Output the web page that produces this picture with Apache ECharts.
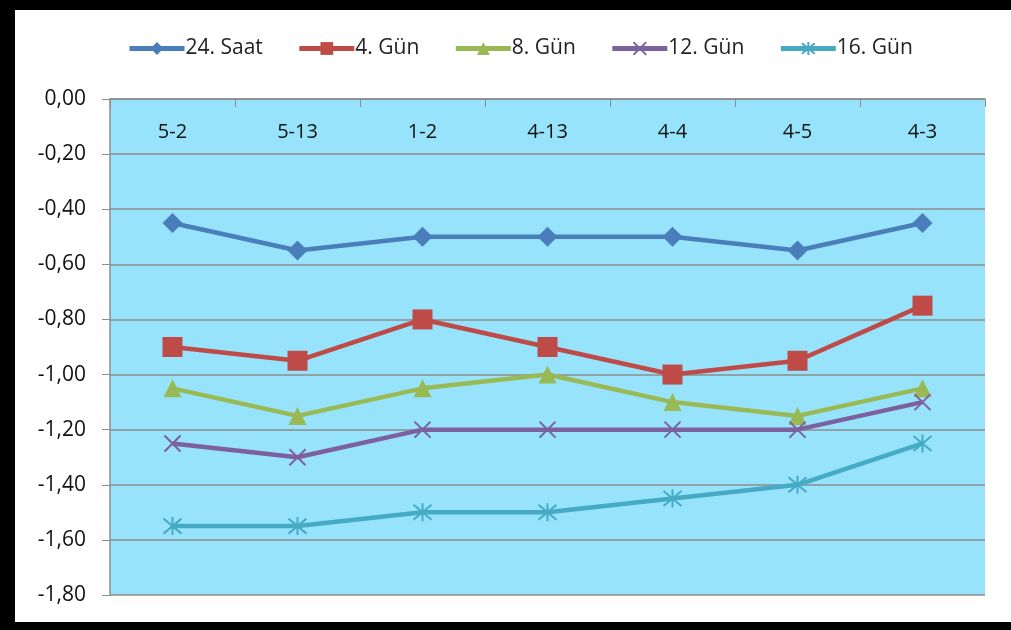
<!DOCTYPE html>
<html>
<head>
<meta charset="utf-8">
<script src="https://cdn.jsdelivr.net/npm/echarts@6/dist/echarts.min.js"></script>
<style>
    body { margin: 0; background: #fff; }
    #frame { position: absolute; left: 0; top: 0; width: 1011px; height: 630px; background: #000; }
    #inner { position: absolute; left: 15px; top: 10px; width: 1000px; height: 612px; background: #fff; }
    #main { position: absolute; left: 0; top: 0; width: 1011px; height: 630px; }
</style>
</head>
<body>
<div id="frame"><div id="inner"></div></div>
<div id="main"></div>
<script>
var categories = ['5-2', '5-13', '1-2', '4-13', '4-4', '4-5', '4-3'];
var saat24 = [-0.45, -0.55, -0.50, -0.50, -0.50, -0.55, -0.45];
var gun4 = [-0.90, -0.95, -0.80, -0.90, -1.00, -0.95, -0.75];
var gun8 = [-1.05, -1.15, -1.05, -1.00, -1.10, -1.15, -1.05];
var gun12 = [-1.25, -1.30, -1.20, -1.20, -1.20, -1.20, -1.10];
var gun16 = [-1.55, -1.55, -1.50, -1.50, -1.45, -1.40, -1.25];

var fontName = '"Open Sans", sans-serif';

var chart = echarts.init(document.getElementById('main'));

function line(name, data, color, symbol, size, hollow) {
    return {
        name: name,
        type: 'line',
        data: data,
        symbol: symbol,
        symbolSize: size,
        showSymbol: true,
        lineStyle: { color: color, width: 4.5 },
        itemStyle: hollow ? {
            color: 'rgba(0,0,0,0)',
            borderColor: color,
            borderWidth: 2
        } : { color: color, borderWidth: 0 },
        emphasis: { disabled: true },
        animation: false
    };
}

chart.setOption({
    textStyle: { fontFamily: fontName },
    legend: {
        top: 33,
        left: 122,
        itemWidth: 55,
        itemHeight: 16,
        itemGap: 34,
        lineStyle: { width: 5 },
        textStyle: { fontSize: 21, color: '#222', fontFamily: fontName, padding: [0, 0, 0, -4] }
    },
    grid: { left: 110, top: 99, width: 875, height: 496, show: true, backgroundColor: '#97E3FB', borderWidth: 0 },
    xAxis: {
        type: 'category',
        position: 'top',
        data: categories,
        boundaryGap: true,
        axisLine: { show: true, lineStyle: { color: '#8c8c8c', width: 1.5 } },
        axisTick: { show: true, inside: true, length: 8, lineStyle: { color: '#8c8c8c' } },
        axisLabel: { inside: true, margin: 23, fontSize: 20, color: '#111', fontFamily: fontName }
    },
    yAxis: {
        type: 'value',
        min: -1.8,
        max: 0,
        interval: 0.2,
        axisLine: { show: true, lineStyle: { color: '#8c8c8c', width: 1.5 } },
        axisTick: { show: true, length: 8, lineStyle: { color: '#8c8c8c' } },
        axisLabel: {
            fontSize: 21,
            color: '#111',
            margin: 24,
            fontFamily: fontName,
            formatter: function (v) { return v.toFixed(2).replace('.', ','); }
        },
        splitLine: { show: true, lineStyle: { color: '#8c8c8c', width: 1.5 } }
    },
    series: [
        line('24. Saat', saat24, '#4A7EBB', 'diamond', 20, false),
        line('4. Gün', gun4, '#BE4B48', 'rect', 20, false),
        line('8. Gün', gun8, '#98B954', 'triangle', 18, false),
        line('12. Gün', gun12, '#7D60A0', 'path://M0 0L10 10M10 0L0 10', 16, true),
        line('16. Gün', gun16, '#46AAC5', 'path://M0 0L10 10M10 0L0 10M5 -1L5 11', 18, true)
    ]
});
</script>
</body>
</html>
